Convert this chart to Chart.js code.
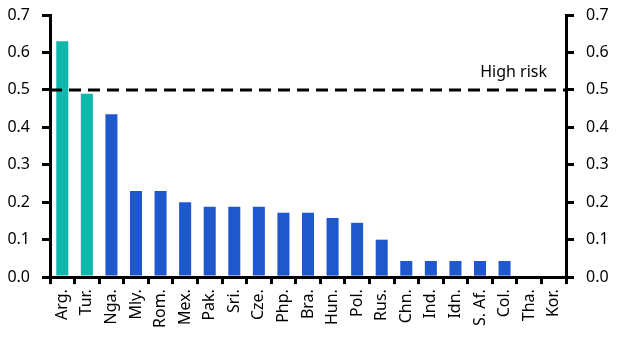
<!DOCTYPE html>
<html>
<head>
<meta charset="utf-8">
<script src="https://cdn.jsdelivr.net/npm/chart.js@4/dist/chart.umd.min.js"></script>
<style>
html,body{margin:0;padding:0;background:#fff;}
#wrap{width:619px;height:340px;position:relative;}
</style>
</head>
<body>
<div id="wrap"><canvas id="c" width="619" height="340"></canvas></div>
<script>
const categories = ['Arg.','Tur.','Nga.','Mly.','Rom.','Mex.','Pak.','Sri.','Cze.','Php.','Bra.','Hun.','Pol.','Rus.','Chn.','Ind.','Idn.','S. Af.','Col.','Tha.','Kor.'];
const riskValues = [0.63,0.49,0.435,0.23,0.23,0.20,0.188,0.188,0.188,0.172,0.172,0.158,0.145,0.10,0.043,0.043,0.043,0.043,0.043,0,0];
const highlighted = ['Arg.','Tur.'];
const yTicks = [0,0.1,0.2,0.3,0.4,0.5,0.6,0.7];
const threshold = 0.5;
const thresholdLabel = 'High risk';

const FONT = "'Noto Sans', sans-serif";
const TEAL = '#0EB8AA';
const BLUE = '#1F58CC';

const thresholdPlugin = {
  id: 'threshold',
  afterDatasetsDraw(chart) {
    const {ctx, chartArea, scales} = chart;
    const y = scales.y.getPixelForValue(threshold);
    ctx.save();
    ctx.strokeStyle = '#000';
    ctx.lineWidth = 3;
    ctx.setLineDash([12, 7]);
    ctx.beginPath();
    ctx.moveTo(chartArea.left, y);
    ctx.lineTo(chartArea.right, y);
    ctx.stroke();
    ctx.setLineDash([]);
    ctx.fillStyle = '#000';
    ctx.font = "16px " + FONT;
    ctx.textAlign = 'right';
    ctx.textBaseline = 'alphabetic';
    ctx.fillText(thresholdLabel, chartArea.right - 19, y - 13);
    ctx.restore();
  }
};

function yAxis(pos, w) {
  return {
    position: pos,
    min: 0, max: 0.7,
    afterBuildTicks(axis){ axis.ticks = yTicks.map(v => ({value: v})); },
    afterFit(axis){ axis.width = w; axis.paddingTop = 15; axis.paddingBottom = 0; },
    ticks: {
      color: '#000', font: {family: FONT, size: 16}, padding: 12,
      callback: v => Number(v).toFixed(1)
    },
    grid: {drawOnChartArea: false, drawTicks: true, tickLength: 8, color: '#000', lineWidth: 3},
    border: {display: true, color: '#000', width: 3}
  };
}

new Chart(document.getElementById('c'), {
  type: 'bar',
  data: {
    labels: categories,
    datasets: [{
      data: riskValues,
      backgroundColor: categories.map(c => highlighted.includes(c) ? TEAL : BLUE),
      categoryPercentage: 1,
      barPercentage: 0.49
    }]
  },
  options: {
    responsive: false,
    animation: false,
    devicePixelRatio: 1,
    layout: {padding: {left: 0, right: 0, top: 0, bottom: 7}},
    plugins: {legend: {display: false}, tooltip: {enabled: false}},
    scales: {
      x: {
        offset: true,
        ticks: {color: '#000', font: {family: FONT, size: 16}, minRotation: 90, maxRotation: 90, autoSkip: false, padding: 5},
        grid: {offset: true, drawOnChartArea: false, drawTicks: true, tickLength: 7, color: '#000', lineWidth: 3},
        border: {display: true, color: '#000', width: 3}
      },
      y: yAxis('left', 50),
      y2: yAxis('right', 53)
    }
  },
  plugins: [thresholdPlugin]
});
</script>
</body>
</html>
